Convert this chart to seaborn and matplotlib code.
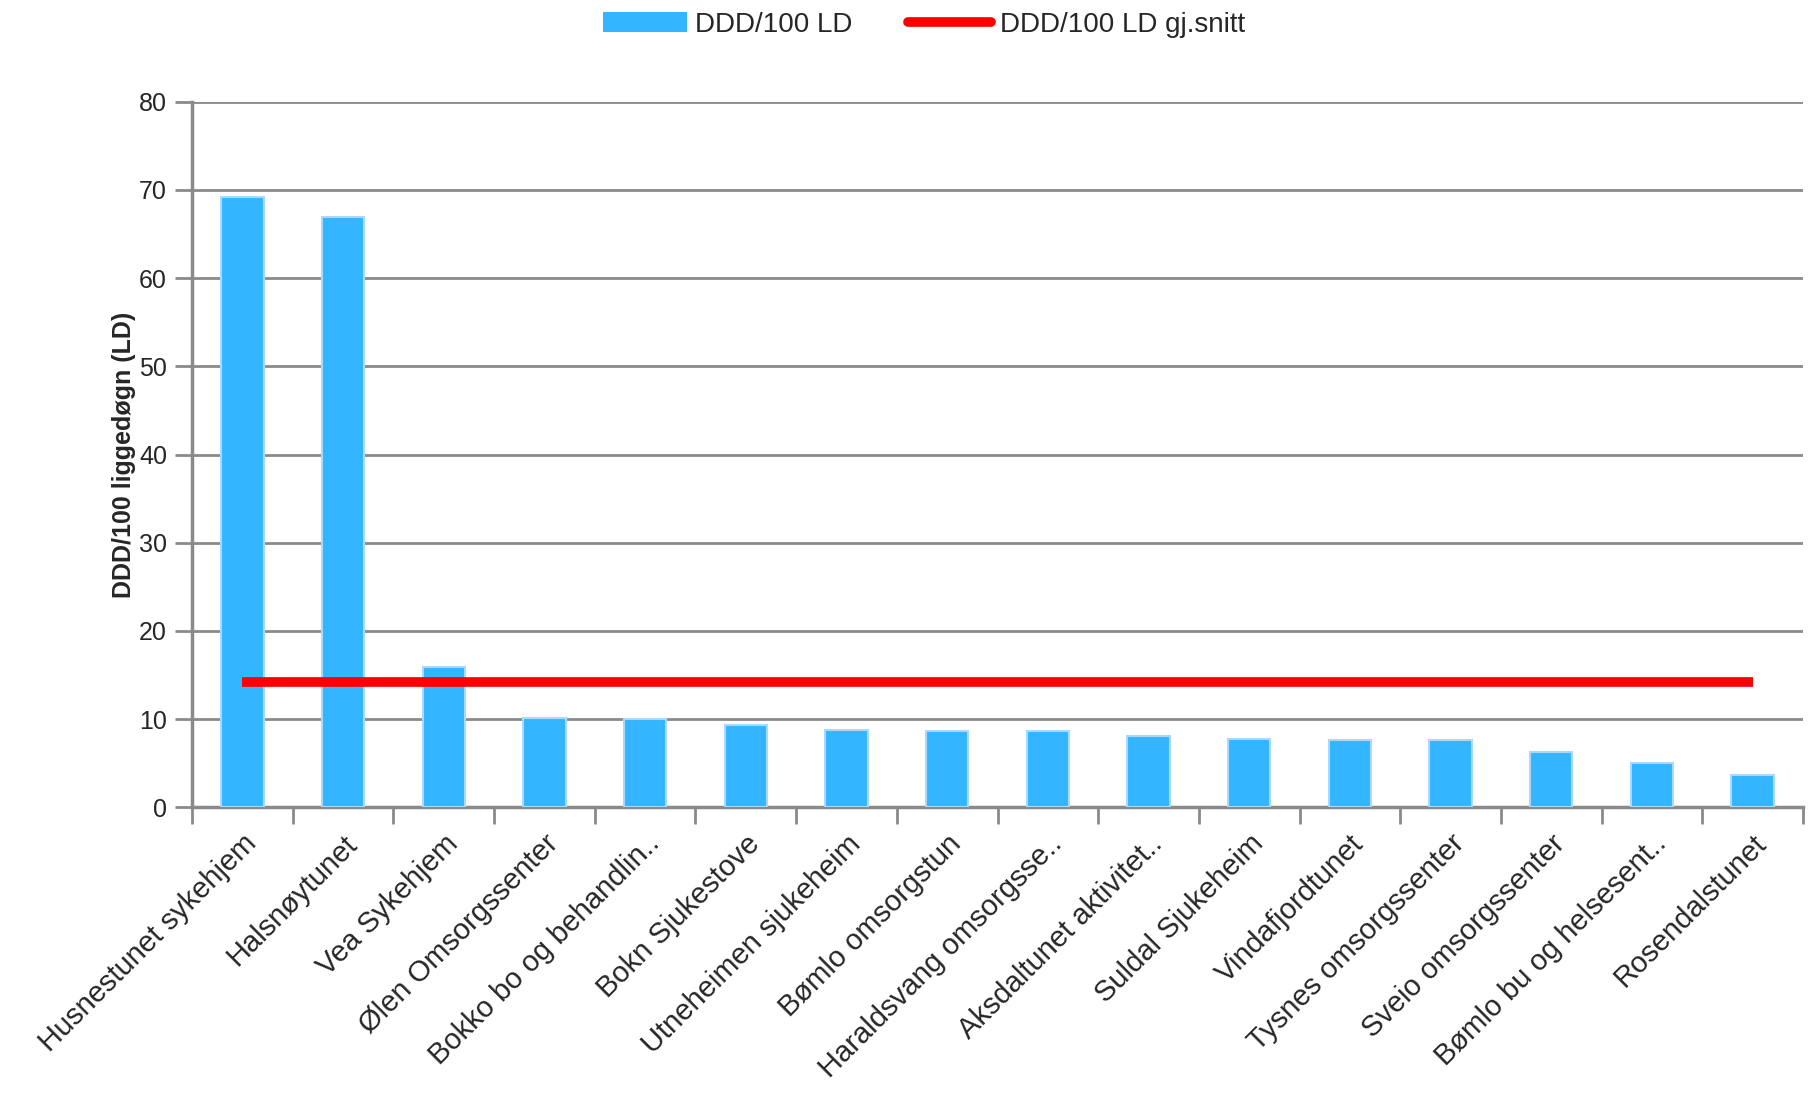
import numpy as np
import pandas as pd
import matplotlib
matplotlib.use("Agg")
import matplotlib.pyplot as plt
import seaborn as sns
from matplotlib.lines import Line2D
from matplotlib.patches import Patch

# Data
institusjoner = [
    "Husnestunet sykehjem", "Halsnøytunet", "Vea Sykehjem", "Ølen Omsorgssenter",
    "Bokko bo og behandlin..", "Bokn Sjukestove", "Utneheimen sjukeheim",
    "Bømlo omsorgstun", "Haraldsvang omsorgsse..", "Aksdaltunet aktivitet..",
    "Suldal Sjukeheim", "Vindafjordtunet", "Tysnes omsorgssenter",
    "Sveio omsorgssenter", "Bømlo bu og helsesent..", "Rosendalstunet",
]
ddd_per_100 = [69.2, 66.9, 15.9, 10.1, 10.0, 9.3, 8.8, 8.7, 8.7, 8.1,
               7.7, 7.6, 7.6, 6.3, 5.0, 3.7]
ddd_snitt = [14.2] * len(institusjoner)

df = pd.DataFrame({"inst": institusjoner, "ddd": ddd_per_100, "snitt": ddd_snitt})

sns.set_theme(style="white")
plt.rcParams["font.family"] = ["Liberation Sans", "DejaVu Sans"]

BAR = "#33b5ff"
EDGE = "#a9d9ff"
GRID = "#8a8a8a"

fig, ax = plt.subplots(figsize=(18.12, 11.06), dpi=100)
fig.subplots_adjust(left=0.106, right=0.995, top=0.908, bottom=0.27)

sns.barplot(data=df, x="inst", y="ddd", color=BAR, width=0.42,
            edgecolor=EDGE, linewidth=1.5, saturation=1, ax=ax, zorder=3)
x = np.arange(len(institusjoner))
ax.plot(x, df["snitt"], color="#ff0000", linewidth=7, zorder=4,
        solid_capstyle="butt")

ax.set_ylim(0, 80)
ax.set_yticks(range(0, 81, 10))
ax.set_xlim(-0.5, len(institusjoner) - 0.5)
ax.yaxis.grid(True, color=GRID, linewidth=2, zorder=0)
ax.xaxis.grid(False)

for side in ["top", "right"]:
    ax.spines[side].set_visible(False)
for side in ["left", "bottom"]:
    ax.spines[side].set_color(GRID)
    ax.spines[side].set_linewidth(2.5)

# ticks between categories on the x axis
ax.set_xticks(x)
ax.set_xticks(np.arange(-0.5, len(institusjoner), 1), minor=True)
ax.tick_params(axis="x", which="major", length=0, pad=16)
ax.tick_params(axis="x", which="minor", length=12, width=2, color=GRID, bottom=True)
ax.tick_params(axis="y", length=12, width=2, color=GRID, left=True, labelsize=18, pad=6)
ax.set_xticklabels(institusjoner, rotation=45, ha="right", rotation_mode="anchor",
                   fontsize=21)

ax.set_xlabel("")
ax.set_ylabel("DDD/100 liggedøgn (LD)", fontsize=18, fontweight="bold", labelpad=2)

handles = [Patch(facecolor=BAR, edgecolor="none"),
           Line2D([0], [0], color="#ff0000", linewidth=7)]
fig.legend(handles, ["DDD/100 LD", "DDD/100 LD gj.snitt"], loc="upper center",
           bbox_to_anchor=(0.51, 1.012), ncol=2, frameon=False, fontsize=20,
           handlelength=3.0, handletextpad=0.3, columnspacing=2.0)

fig.savefig("out.png", dpi=100)
